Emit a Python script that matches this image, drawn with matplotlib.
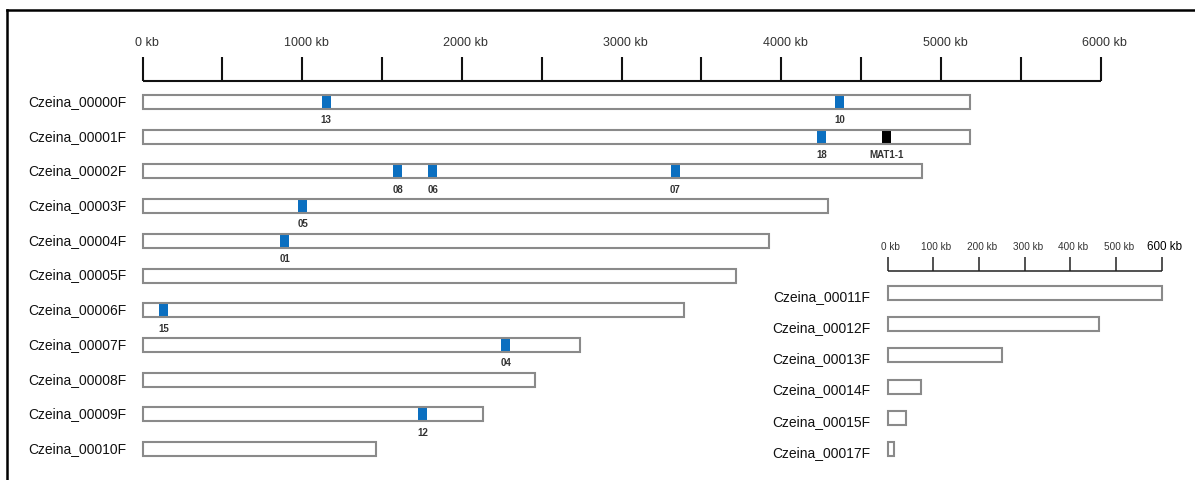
import matplotlib
matplotlib.use("Agg")
import matplotlib.pyplot as plt
from matplotlib.patches import Rectangle
from matplotlib.lines import Line2D
from matplotlib.transforms import offset_copy

plt.rcParams['font.family'] = ['Liberation Sans', 'DejaVu Sans']

# ---- data -------------------------------------------------------------
large_contigs = ['Czeina_00000F', 'Czeina_00001F', 'Czeina_00002F', 'Czeina_00003F',
                 'Czeina_00004F', 'Czeina_00005F', 'Czeina_00006F', 'Czeina_00007F',
                 'Czeina_00008F', 'Czeina_00009F', 'Czeina_00010F']
large_lengths_kb = [5180, 5180, 4880, 4290, 3920, 3715, 3390, 2740, 2460, 2130, 1460]

locus_contig = ['Czeina_00000F', 'Czeina_00000F', 'Czeina_00001F', 'Czeina_00001F',
                'Czeina_00002F', 'Czeina_00002F', 'Czeina_00002F', 'Czeina_00003F',
                'Czeina_00004F', 'Czeina_00006F', 'Czeina_00007F', 'Czeina_00009F']
locus_pos_kb = [1150, 4367, 4254, 4658, 1598, 1817, 3336, 1002, 890, 132, 2274, 1754]
locus_label = ['13', '10', '18', 'MAT1-1', '08', '06', '07', '05', '01', '15', '04', '12']
locus_kind = ['cluster', 'cluster', 'cluster', 'mat', 'cluster', 'cluster', 'cluster',
              'cluster', 'cluster', 'cluster', 'cluster', 'cluster']

small_contigs = ['Czeina_00011F', 'Czeina_00012F', 'Czeina_00013F',
                 'Czeina_00014F', 'Czeina_00015F', 'Czeina_00017F']
small_lengths_kb = [600, 463, 250, 72, 40, 14]

large_ticks_kb = list(range(0, 6001, 500))
large_tick_labels = {0: '0 kb', 1000: '1000 kb', 2000: '2000 kb', 3000: '3000 kb',
                     4000: '4000 kb', 5000: '5000 kb', 6000: '6000 kb'}
small_ticks_kb = [0, 100, 200, 300, 400, 500, 600]
small_tick_labels = ['0 kb', '100 kb', '200 kb', '300 kb', '400 kb', '500 kb', '600 kb']

# ---- styles -----------------------------------------------------------
W, H, DPI = 1195, 480, 100
EDGE = '#8a8a8a'
BLUE = '#0b6fc0'
LW = 1.5
marker_w_kb = 56

fig = plt.figure(figsize=(W / DPI, H / DPI), dpi=DPI)
fig.patch.set_facecolor('white')

# main panel: kb on x, contig row on y
ax = fig.add_axes([0, 0, 1, 1])
x0_px, px_per_kb = 142.5, 0.1597
y0_px, row_px = 102.0, 34.7
ax.set_xlim(-x0_px / px_per_kb, (W - x0_px) / px_per_kb)
ax.set_ylim((H - y0_px) / row_px, -y0_px / row_px)
ax.axis('off')
bar_h = 14 / row_px

row_of = {c: i for i, c in enumerate(large_contigs)}
for i, (name, length) in enumerate(zip(large_contigs, large_lengths_kb)):
    ax.add_patch(Rectangle((0, i - bar_h / 2), length, bar_h, facecolor='white',
                           edgecolor='none', zorder=1))
    ax.add_patch(Rectangle((0, i - bar_h / 2), length, bar_h, facecolor='none',
                           edgecolor=EDGE, linewidth=LW, zorder=3))
    ax.text(-100, i + 0.0, name, ha='right', va='center', fontsize=10, color='#111111')

for c, pos, lab, kind in zip(locus_contig, locus_pos_kb, locus_label, locus_kind):
    r = row_of[c]
    col = 'black' if kind == 'mat' else BLUE
    ax.add_patch(Rectangle((pos - marker_w_kb / 2, r - bar_h / 2), marker_w_kb, bar_h,
                           facecolor=col, edgecolor='none', zorder=2))
    ax.text(pos, r + 0.53, lab, ha='center', va='center', fontsize=7,
            fontweight='bold', color='#333333')

# top scale bar
axis_y = (81.5 - y0_px) / row_px
tick_top = (57.0 - y0_px) / row_px
label_y = (43.5 - y0_px) / row_px
ax.plot([large_ticks_kb[0], large_ticks_kb[-1]], [axis_y, axis_y], color='#111111',
        linewidth=LW, solid_capstyle='butt')
for t in large_ticks_kb:
    ax.plot([t, t], [axis_y, tick_top], color='#111111', linewidth=LW,
            solid_capstyle='butt')
shifted = offset_copy(ax.transData, fig=fig, x=4, y=0, units='dots')
for t, lab in large_tick_labels.items():
    ax.text(t, label_y, lab, ha='center', va='center', fontsize=9, color='#333333',
            transform=shifted)

# small-contig panel with its own kb scale
ax2 = fig.add_axes([0, 0, 1, 1])
ax2.patch.set_alpha(0)
sx0_px, spx_per_kb = 887.7, 0.4567
sy0_px, srow_px = 293.0, 31.2
ax2.set_xlim(-sx0_px / spx_per_kb, (W - sx0_px) / spx_per_kb)
ax2.set_ylim((H - sy0_px) / srow_px, -sy0_px / srow_px)
ax2.axis('off')
sbar_h = 14 / srow_px

for j, (name, length) in enumerate(zip(small_contigs, small_lengths_kb)):
    ax2.add_patch(Rectangle((0, j - sbar_h / 2), length, sbar_h, facecolor='white',
                            edgecolor=EDGE, linewidth=LW, zorder=3))
    ax2.text(-38, j + 0.12, name, ha='right', va='center', fontsize=10, color='#111111')

s_axis_y = (270.5 - sy0_px) / srow_px
s_tick_top = (256.5 - sy0_px) / srow_px
s_label_y = (246.5 - sy0_px) / srow_px
ax2.plot([small_ticks_kb[0], small_ticks_kb[-1]], [s_axis_y, s_axis_y], color='#222222',
         linewidth=1.1, solid_capstyle='butt')
for t in small_ticks_kb:
    ax2.plot([t, t], [s_axis_y, s_tick_top], color='#222222', linewidth=1.1,
             solid_capstyle='butt')
sshift = offset_copy(ax2.transData, fig=fig, x=3, y=0, units='dots')
for k, (t, lab) in enumerate(zip(small_ticks_kb, small_tick_labels)):
    last = k == len(small_ticks_kb) - 1
    ax2.text(t, s_label_y, lab, ha='center', va='center',
             fontsize=8.4 if last else 7.2,
             color='#000000' if last else '#333333', transform=sshift)

# frame (top and left edges)
fig.add_artist(Line2D([7 / W, 1], [1 - 10 / H, 1 - 10 / H], color='black',
                      linewidth=1.8, transform=fig.transFigure))
fig.add_artist(Line2D([7 / W, 7 / W], [0, 1 - 10 / H], color='black',
                      linewidth=1.8, transform=fig.transFigure))

fig.savefig('out.png', dpi=DPI, facecolor='white')
